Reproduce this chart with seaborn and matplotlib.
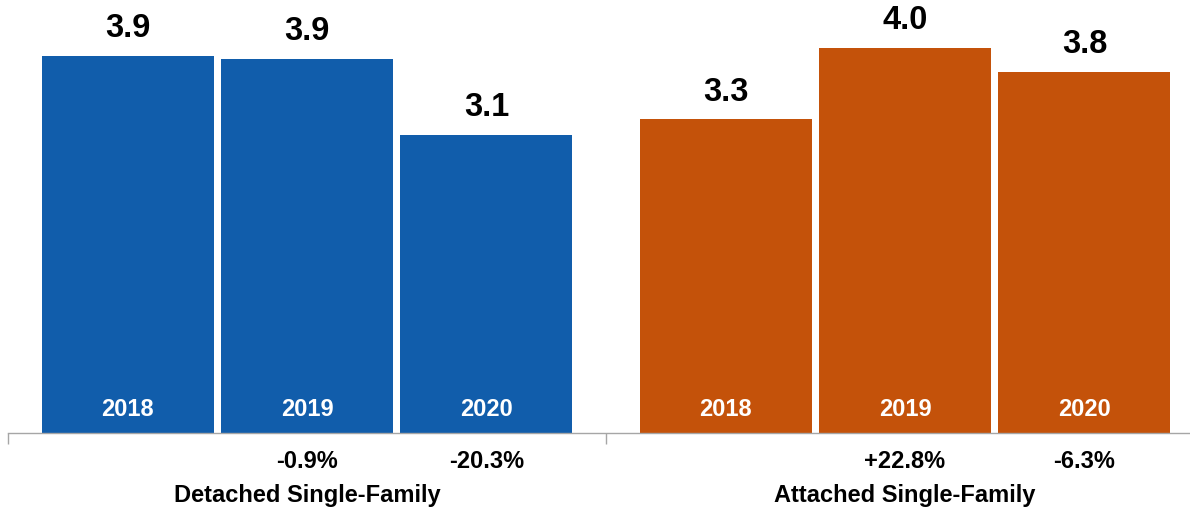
import numpy as np
import pandas as pd
import matplotlib
matplotlib.use("Agg")
import matplotlib.pyplot as plt
import seaborn as sns

# Housing starts (millions) by type and year
groups = ["Detached Single-Family", "Attached Single-Family"]
years = ["2018", "2019", "2020"]
detached = [3.92, 3.885, 3.097]
attached = [3.26, 4.003, 3.751]
group_colors = ["#115DAB", "#C4520A"]

sns.set_theme(style="white")
plt.rcParams["font.family"] = ["Liberation Sans", "DejaVu Sans"]

df = pd.DataFrame({
    "group": np.repeat(groups, len(years)),
    "year": years * len(groups),
    "value": detached + attached,
})

fig = plt.figure(figsize=(11.90, 5.11), dpi=100)
ax = fig.add_axes([8 / 1190, 78 / 511, (1190 - 8) / 1190, 433 / 511])

sns.barplot(data=df, x="group", y="value", hue="year", order=groups,
            hue_order=years, width=0.9, gap=0.041, legend=False,
            saturation=1, ax=ax, errorbar=None)

# Axis styling
for s in ["left", "top", "right"]:
    ax.spines[s].set_visible(False)
ax.spines["bottom"].set_color("#A6A6A6")
ax.spines["bottom"].set_linewidth(1.0)
ax.set_yticks([])
ax.set_xticks([-0.5, 0.5])
ax.set_xticklabels([])
ax.tick_params(axis="x", direction="out", length=8, width=1.0,
               color="#A6A6A6", bottom=True)
ax.set_xlabel("")
ax.set_ylabel("")
ax.set_xlim(-0.5, 1.4766)
ax.set_ylim(0, 4.5)

# Colour bars by group and collect their geometry
bars = []
for p in ax.patches:
    if p.get_height() <= 0:
        continue
    cx = p.get_x() + p.get_width() / 2
    gi = 0 if cx < 0.5 else 1
    p.set_facecolor(group_colors[gi])
    p.set_edgecolor("none")
    bars.append((cx, p.get_height(), gi))
bars.sort()

series = [detached, attached]
for gi in range(len(groups)):
    gbars = [b for b in bars if b[2] == gi]
    vals = series[gi]
    for j, (cx, h, _) in enumerate(gbars):
        # value label above the bar
        ax.annotate(f"{vals[j]:.1f}", xy=(cx, vals[j]), xytext=(0, 13.5),
                    textcoords="offset points", ha="center", va="baseline",
                    fontsize=23.5, fontweight="bold", color="black")
        # year label inside the bar
        ax.annotate(years[j], xy=(cx, 0), xytext=(0, 12.2),
                    textcoords="offset points", ha="center", va="baseline",
                    fontsize=17, fontweight="bold", color="white")
        # year-over-year change below the axis
        if j > 0:
            pct = (vals[j] / vals[j - 1] - 1) * 100
            ax.annotate(f"{pct:+.1f}%", xy=(cx, 0),
                        xytext=(0, -25), textcoords="offset points",
                        ha="center", va="baseline", fontsize=17,
                        fontweight="bold", color="black")
    ax.annotate(groups[gi], xy=(gi, 0), xytext=(0, -49.5),
                textcoords="offset points", ha="center", va="baseline",
                fontsize=17, fontweight="bold", color="black")

fig.savefig("out.png", dpi=100)
